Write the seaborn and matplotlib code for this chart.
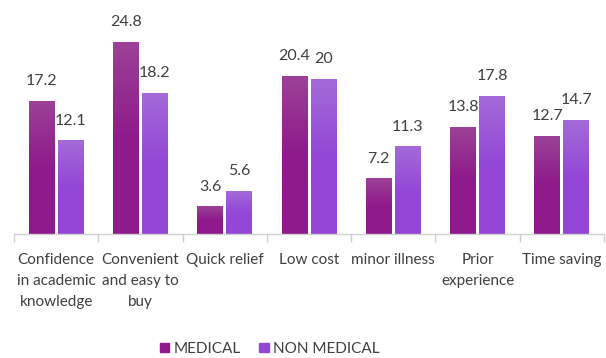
import matplotlib
matplotlib.use("Agg")
import matplotlib.pyplot as plt
import matplotlib.colors as mcolors
import numpy as np
import pandas as pd
import seaborn as sns

categories = [
    "Confidence\nin academic\nknowledge",
    "Convenient\nand easy to\nbuy",
    "Quick relief",
    "Low cost",
    "minor illness",
    "Prior\nexperience",
    "Time saving",
]
medical = [17.2, 24.8, 3.6, 20.4, 7.2, 13.8, 12.7]
non_medical = [12.1, 18.2, 5.6, 20, 11.3, 17.8, 14.7]
groups = ["MEDICAL", "NON MEDICAL"]

colors = {"MEDICAL": "#8E1A8B", "NON MEDICAL": "#9447D6"}
tops = {"MEDICAL": "#9C4197", "NON MEDICAL": "#A46AD9"}

df = pd.DataFrame({
    "category": categories * 2,
    "group": [groups[0]] * len(categories) + [groups[1]] * len(categories),
    "value": medical + non_medical,
})

sns.set_theme(style="white")
plt.rcParams["font.family"] = ["Lato", "DejaVu Sans"]

fig = plt.figure(figsize=(6.06, 3.58), dpi=100)
ax = fig.add_axes([14 / 606, 124 / 358, 590 / 606, 228 / 358])

sns.barplot(data=df, x="category", y="value", hue="group", order=categories,
            hue_order=groups, palette=colors, width=0.69, gap=0.11,
            edgecolor="none", legend=False, ax=ax)

# vertical gradient inside each bar
for container, g in zip(ax.containers, groups):
    cmap = mcolors.LinearSegmentedColormap.from_list(
        g, [colors[g], colors[g], tops[g]])
    grad = np.linspace(0, 1, 64).reshape(-1, 1)
    for bar in container:
        x0, w, h = bar.get_x(), bar.get_width(), bar.get_height()
        im = ax.imshow(grad, cmap=cmap, extent=[x0, x0 + w, 0, h],
                       origin="lower", aspect="auto", zorder=bar.get_zorder())
        im.set_clip_path(bar)
    ax.bar_label(container, labels=[f"{v:g}" for v in container.datavalues],
                 padding=9, fontsize=11.5, color="#404040")
ax.set_aspect("auto")
ax.set_xlim(-0.5, len(categories) - 0.5)
ax.set_ylim(0, 29.4)

for s in ["top", "right", "left"]:
    ax.spines[s].set_visible(False)
ax.spines["bottom"].set_color("#D0D0D0")
ax.spines["bottom"].set_linewidth(1)
ax.set_yticks([])
ax.set_xlabel("")
ax.set_ylabel("")
ax.tick_params(axis="x", which="major", length=0, pad=14,
               labelsize=11, labelcolor="#404040")
for lbl in ax.get_xticklabels():
    lbl.set_linespacing(1.6)
ax.set_xticks(np.arange(-0.5, len(categories)), minor=True)
ax.tick_params(axis="x", which="minor", length=6, color="#D0D0D0", width=1,
               bottom=True)

handles = [plt.Rectangle((0, 0), 1, 1, color=colors[g]) for g in groups]
fig.legend(handles, groups, loc="center", bbox_to_anchor=(270 / 606, 1 - 349 / 358),
           ncol=2, frameon=False, fontsize=11, handlelength=0.6,
           handleheight=0.6, handletextpad=0.3, columnspacing=1.2,
           labelcolor="#404040")

fig.savefig("out.png", dpi=100)
